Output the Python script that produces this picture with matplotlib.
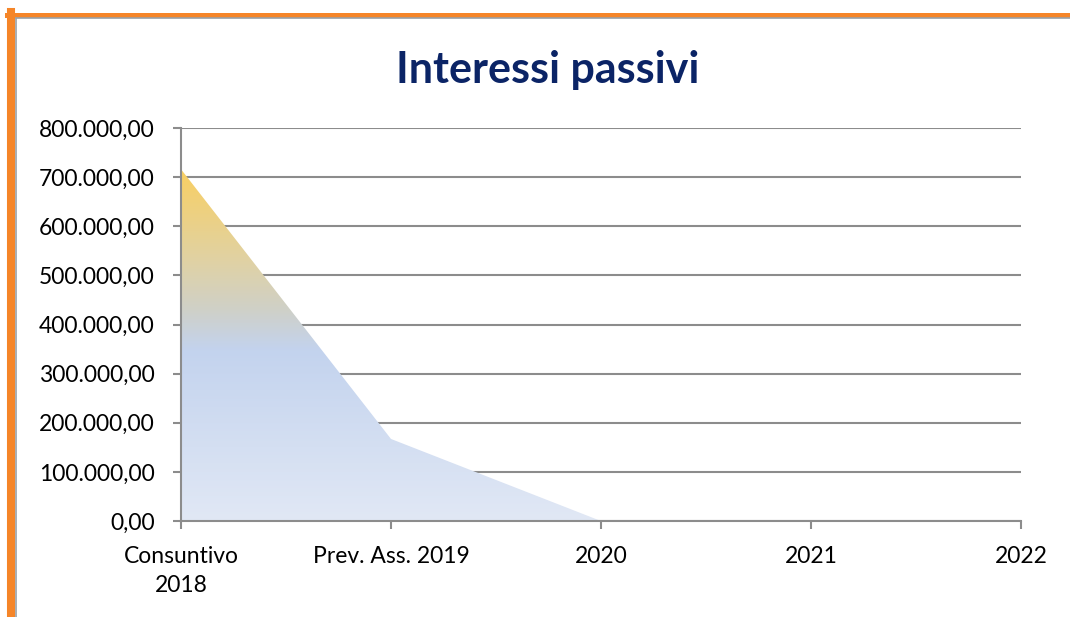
import numpy as np
import matplotlib
matplotlib.use("Agg")
import matplotlib.pyplot as plt
from matplotlib.colors import LinearSegmentedColormap
from matplotlib.lines import Line2D
from matplotlib.ticker import FuncFormatter

categories = ["Consuntivo\n2018", "Prev. Ass. 2019", "2020", "2021", "2022"]
values = [716000, 167000, 0, 0, 0]
title = "Interessi passivi"

plt.rcParams["font.family"] = ["Lato", "DejaVu Sans"]

fig = plt.figure(figsize=(10.7, 6.17), dpi=100)
ax = fig.add_axes([181 / 1070, 96 / 617, 840 / 1070, 393 / 617])

x = np.arange(len(categories))
poly = ax.fill_between(x, values, 0, color="none", linewidth=0)

# vertical gradient: pale blue at the bottom, blue, grey-tan, yellow at the top
cmap = LinearSegmentedColormap.from_list(
    "grad", [(0.0, "#e1e8f5"), (0.486, "#c3d3ee"), (0.6, "#cfd0c8"),
             (0.74, "#e0d2a4"), (1.0, "#f9cf62")]
)
grad = np.linspace(0, 1, 256).reshape(-1, 1)
img = ax.imshow(grad, cmap=cmap, origin="lower", aspect="auto",
                extent=[0, len(categories) - 1, 0, max(values)], zorder=1)
img.set_clip_path(poly.get_paths()[0], transform=ax.transData)

ax.set_xlim(0, len(categories) - 1)
ax.set_ylim(0, 800000)
ax.set_yticks(np.arange(0, 800001, 100000))
ax.yaxis.set_major_formatter(FuncFormatter(
    lambda v, _: f"{v:,.2f}".replace(",", "X").replace(".", ",").replace("X", ".")))
ax.set_xticks(x, categories)
for lab in ax.get_xticklabels():
    lab.set_linespacing(1.45)

ax.grid(axis="y", color="#8c8c8c", linewidth=1.5, zorder=0)
ax.set_axisbelow(True)
for side in ("top", "right"):
    ax.spines[side].set_visible(False)
for side in ("left", "bottom"):
    ax.spines[side].set_color("#8c8c8c")
    ax.spines[side].set_linewidth(1.5)
    ax.spines[side].set_zorder(3)
ax.tick_params(axis="both", colors="#8c8c8c", width=1.5, length=6, labelcolor="black")
ax.tick_params(axis="x", labelsize=16.5, pad=12)
ax.tick_params(axis="y", labelsize=16.5, pad=13)

fig.text(548 / 1070, 1 - 83.5 / 617, title, ha="center", va="baseline",
         fontsize=31, fontweight="bold", color="#0b2466")

# orange frame on the top and left edges
fig.add_artist(Line2D([7 / 1070, 1], [1 - 14.5 / 617] * 2, color="#f58528", linewidth=3.6))
fig.add_artist(Line2D([11 / 1070] * 2, [0, 1 - 12 / 617], color="#f58528", linewidth=5.8))
fig.add_artist(Line2D([15.5 / 1070, 1], [1 - 17.5 / 617] * 2, color="#9aa0a6", linewidth=1.2))
fig.add_artist(Line2D([15.5 / 1070] * 2, [0, 1 - 17.5 / 617], color="#9aa0a6", linewidth=1.2))

fig.savefig("out.png", dpi=100)
